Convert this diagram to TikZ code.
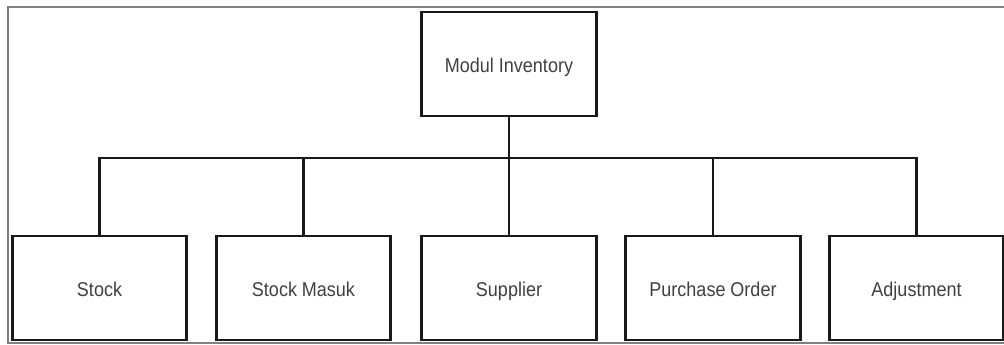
\documentclass[tikz,border=0pt]{standalone}
\usepackage{fontspec}
\setmainfont[FakeStretch=0.9]{Liberation Sans}
\begin{document}
\begin{tikzpicture}[x=0.75pt, y=-0.75pt,
  modbox/.style={draw=black!90, line width=2.1pt, fill=white, inner sep=0pt,
    minimum width=131pt, minimum height=78pt,
    text height=1.25em, text depth=0pt,
    font=\fontsize{15}{17}\selectfont, text=black!75},
  link/.style={draw=black!90, line width=1.8pt}]
  \useasboundingbox (0,0) rectangle (1004,345);
  % frame around the chart (open on the right)
  \draw[black!50, line width=0.9pt] (1006,7) -- (8,7) -- (8,343) -- (1006,343);
  % parent module
  \node[modbox] (root) at (509,64) {Modul Inventory};
  % sub-modules
  \node[modbox] (stock)    at (99.5,288)  {Stock};
  \node[modbox] (masuk)    at (303.5,288) {Stock Masuk};
  \node[modbox] (supplier) at (509,288)   {Supplier};
  \node[modbox] (po)       at (713,288)   {Purchase Order};
  \node[modbox, minimum width=130pt] (adj) at (916.5,288) {Adjustment};
  % horizontal bus level
  \coordinate (bus) at (0,158);
  \foreach \c in {stock,masuk,supplier,po,adj}
    \draw[link] (root.south) -- (root.south |- bus) -| (\c.north);
\end{tikzpicture}
\end{document}
